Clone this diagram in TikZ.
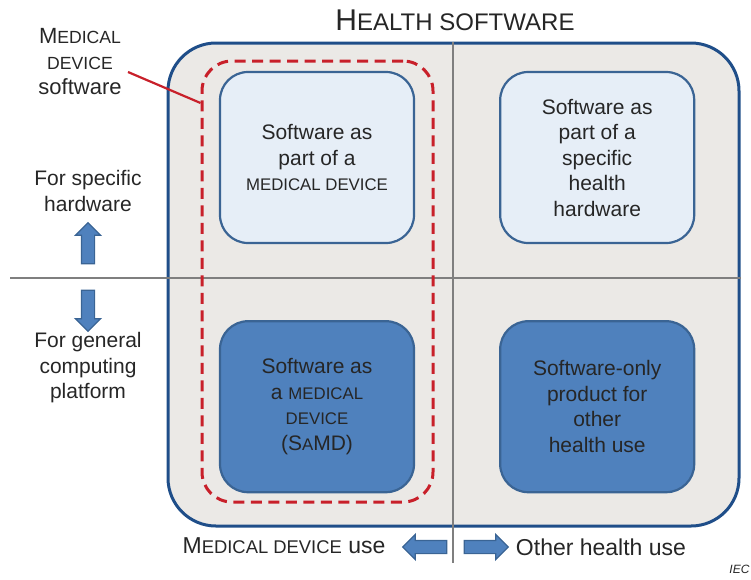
\documentclass[tikz,border=0pt]{standalone}
\usepackage{fontspec}
\setmainfont{Liberation Sans}
\usetikzlibrary{positioning,shapes.arrows}

\definecolor{frameblue}{HTML}{1F4E89}
\definecolor{paleblue}{HTML}{E6EEF7}
\definecolor{boxblue}{HTML}{4F81BD}
\definecolor{edgeblue}{HTML}{3A6494}
\definecolor{granite}{HTML}{EBE9E6}
\definecolor{dashred}{HTML}{C8202A}
\definecolor{splitgray}{HTML}{7F7F7F}
\definecolor{inkgray}{HTML}{262626}

% fake small caps, as in the printed figure
\makeatletter
\newdimen\scdim
\newcommand\fsc[1]{{\scdim=\f@size pt\scdim=0.8\scdim
  \fontsize{\strip@pt\scdim}{\f@baselineskip}\selectfont\MakeUppercase{#1}}}
\makeatother

\tikzset{
	bodytext/.style={text=inkgray, align=center, font=\fontsize{21}{25.5}\selectfont},
	lighttile/.style={bodytext, draw=edgeblue, fill=paleblue, line width=2.2pt,
		rounded corners=28pt, minimum width=194pt, minimum height=171pt},
	darktile/.style={lighttile, fill=boxblue},
	fatarrow/.style={single arrow, draw=edgeblue, fill=boxblue, line width=1.2pt,
		minimum height=41pt, inner sep=6pt, single arrow head extend=6pt,
		single arrow tip angle=90, shape border rotate=#1},
}

\begin{document}
\begin{tikzpicture}[x=1pt, y=-1pt]
	\useasboundingbox (0,0) rectangle (751,579);

	\node[draw=frameblue, fill=granite, line width=3pt, rounded corners=48pt,
		minimum width=571pt, minimum height=483pt] (health) at (453.5,284.5) {};
	\node[bodytext, font=\fontsize{30}{30}\selectfont] (title) at (455,20) {H\fsc{ealth software}};

	\coordinate (hleft) at (10,278);
	\coordinate (vbot) at (453,563);
	\draw[splitgray, line width=1.6pt] (hleft) -- (hleft -| health.east);
	\draw[splitgray, line width=1.6pt] (453,0 |- health.north) -- (vbot);

	\node[draw=dashred, line width=3pt, dash pattern=on 11pt off 6.5pt, rounded corners=30pt,
		minimum width=231pt, minimum height=441pt] (mdsw) at (317.5,281.5) {};

	\node[lighttile] (partmd) at (317,157.5) {Software as\\part of a\\\fsc{medical device}};
	\node[lighttile, right=84pt of partmd] (parthw) {Software as\\part of a\\specific\\health\\hardware};
	\node[darktile, below=76pt of partmd] (samd) {Software as\\a \fsc{medical}\\\fsc{device}\\(S\fsc{a}MD)};
	\node[darktile, below=76pt of parthw] (otheruse) {Software-only\\product for\\other\\health use};

	% labels on the left
	\node[bodytext, font=\fontsize{22}{25.5}\selectfont] (mdlabel) at (80,62) {M\fsc{edical}\\\fsc{device}\\software};
	\draw[dashred, line width=2.2pt] (128,72) -- (mdsw.west |- 0,103);

	\node[bodytext] (specific) at (88,191) {For specific\\hardware};
	\node[fatarrow=90] (uparr) at (88,246.5) {};
	\node[fatarrow=270] (downarr) at (88,307.5) {};
	\node[bodytext] (general) at (88,368) {For general\\computing\\platform};

	% labels at the bottom
	\node[fatarrow=180, minimum height=44pt] (leftarr) at (428,547) {};
	\node[fatarrow=0, minimum height=44pt] (rightarr) at (483,547) {};
	\node[bodytext, font=\fontsize{23}{25.5}\selectfont] (mduse) at (284,546) {M\fsc{edical device} use};
	\node[bodytext, font=\fontsize{23}{25.5}\selectfont] (otherlabel) at (601,547) {Other health use};

	\node[text=inkgray, anchor=east, font=\fontsize{12}{12}\itshape] (iec) at (753,569) {IEC};
\end{tikzpicture}
\end{document}
